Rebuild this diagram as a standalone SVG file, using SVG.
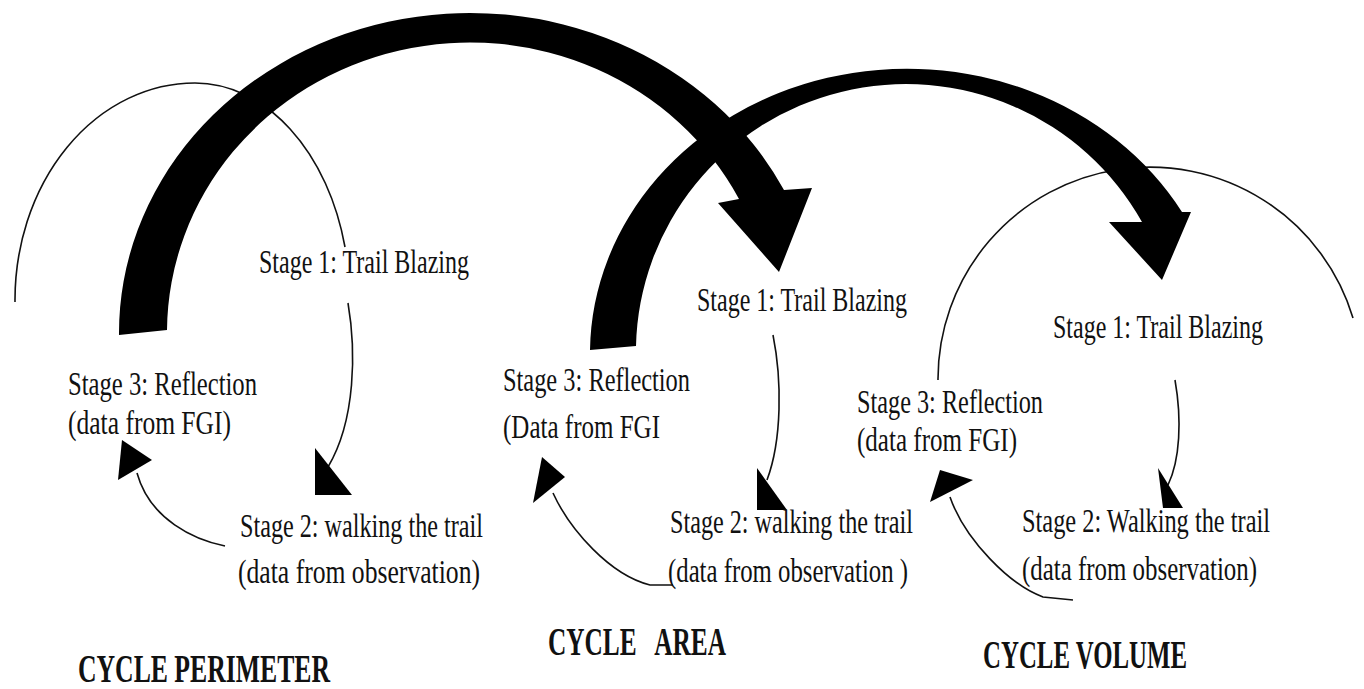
<svg xmlns="http://www.w3.org/2000/svg" width="1364" height="689" viewBox="0 0 1364 689">
<style>
.t{font-family:"Liberation Serif","Times New Roman",serif;font-size:34px;fill:#111}
.c{font-family:"Liberation Serif","Times New Roman",serif;font-size:41px;font-weight:bold;fill:#111}
.ln{fill:none;stroke:#111;stroke-width:1.6}
.hd{fill:#000;stroke:none}
.big{fill:#000;stroke:none}
</style>
<rect width="1364" height="689" fill="#fff"/>
<g id="connectors">
  <path class="ln" d="M15,302 A180,217 0 0 1 195,83 A155,217 0 0 1 345,247"/>
  <path class="ln" d="M348,303 C356,350 356,420 328,467"/>
  <polygon class="hd" points="315,448 315,495 352,495"/>
  <path class="ln" d="M225,546 C195,540 150,520 137,473"/>
  <polygon class="hd" points="122,440 118,480 152,460"/>
  <path class="ln" d="M773,335 C782,380 782,440 767,480"/>
  <polygon class="hd" points="757,468 757,510 787,510"/>
  <path class="ln" d="M673,585 L650,585 C610,575 570,530 553,493"/>
  <polygon class="hd" points="542,457 533,503 565,477"/>
  <path class="ln" d="M938,380 A212,212 0 0 1 1353,318"/>
  <path class="ln" d="M1175,380 C1182,420 1180,460 1168,485"/>
  <polygon class="hd" points="1158,468 1163,508 1183,508"/>
  <path class="ln" d="M1073,600 L1043,597 C1010,585 965,540 950,497"/>
  <polygon class="hd" points="940,470 930,502 973,480"/>
  <path class="big" d="M590,350 A317,285 0 0 1 1182,212 L1191,212 L1162,280 L1109,222 L1142,222 A270,268 0 0 0 636,346 Z"/>
  <path class="big" d="M119,335 A351,320 0 0 1 784,190 L812,188 L779,272 L718,203 L739,199 A303,290 0 0 0 167,330 Z"/>
</g>
<g id="c1-stage1"><text class="t" x="259" y="273" textLength="210" lengthAdjust="spacingAndGlyphs">Stage 1: Trail Blazing</text></g>
<g id="c1-stage3"><text class="t" x="68" y="395" textLength="189" lengthAdjust="spacingAndGlyphs">Stage 3: Reflection</text><text class="t" x="68" y="434" textLength="163" lengthAdjust="spacingAndGlyphs">(data from FGI)</text></g>
<g id="c1-stage2"><text class="t" x="240" y="537" textLength="243" lengthAdjust="spacingAndGlyphs">Stage 2: walking the trail</text><text class="t" x="238" y="583" textLength="242" lengthAdjust="spacingAndGlyphs">(data from observation)</text></g>
<g id="c2-stage1"><text class="t" x="697" y="311" textLength="210" lengthAdjust="spacingAndGlyphs">Stage 1: Trail Blazing</text></g>
<g id="c2-stage3"><text class="t" x="503" y="391" textLength="187" lengthAdjust="spacingAndGlyphs">Stage 3: Reflection</text><text class="t" x="503" y="438" textLength="157" lengthAdjust="spacingAndGlyphs">(Data from FGI</text></g>
<g id="c2-stage2"><text class="t" x="670" y="533" textLength="243" lengthAdjust="spacingAndGlyphs">Stage 2: walking the trail</text><text class="t" x="668" y="582" textLength="240" lengthAdjust="spacingAndGlyphs">(data from observation )</text></g>
<g id="c3-stage1"><text class="t" x="1053" y="338" textLength="210" lengthAdjust="spacingAndGlyphs">Stage 1: Trail Blazing</text></g>
<g id="c3-stage3"><text class="t" x="857" y="413" textLength="186" lengthAdjust="spacingAndGlyphs">Stage 3: Reflection</text><text class="t" x="857" y="451" textLength="160" lengthAdjust="spacingAndGlyphs">(data from FGI)</text></g>
<g id="c3-stage2"><text class="t" x="1022" y="532" textLength="248" lengthAdjust="spacingAndGlyphs">Stage 2: Walking the trail</text><text class="t" x="1022" y="580" textLength="235" lengthAdjust="spacingAndGlyphs">(data from observation)</text></g>
<g id="label-perimeter"><text class="c" x="78" y="682" textLength="252" lengthAdjust="spacingAndGlyphs">CYCLE PERIMETER</text></g>
<g id="label-area"><text class="c" x="548" y="655" textLength="178" lengthAdjust="spacingAndGlyphs" xml:space="preserve">CYCLE   AREA</text></g>
<g id="label-volume"><text class="c" x="983" y="668" textLength="204" lengthAdjust="spacingAndGlyphs">CYCLE VOLUME</text></g>
</svg>
